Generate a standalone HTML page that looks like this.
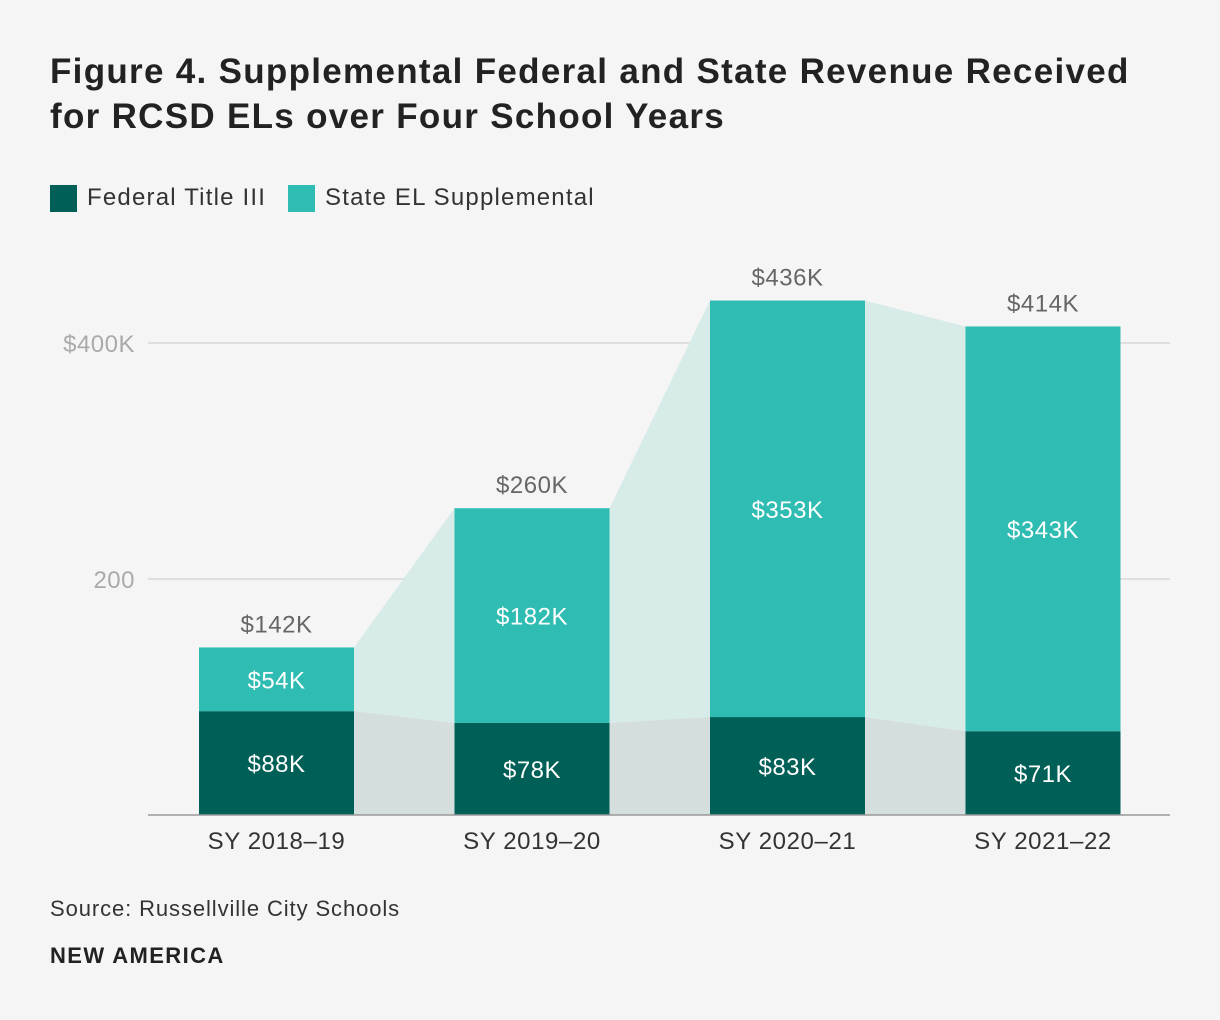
<!DOCTYPE html>
<html><head><meta charset="utf-8"><style>
body{margin:0;background:#f5f5f5;font-family:"Liberation Sans",sans-serif;}
#wrap{position:relative;width:1220px;height:1020px;}
.t{position:absolute;left:50px;font-weight:bold;font-size:35px;letter-spacing:1.3px;color:#222;line-height:45px;}
</style></head><body>
<div id="wrap">
<div class="t" style="top:49px">Figure 4. Supplemental Federal and State Revenue Received<br>for RCSD ELs over Four School Years</div>
<svg id="svg" width="1220" height="1020" style="position:absolute;left:0;top:0">
<g>
<rect x="50" y="185" width="27" height="27" fill="#005f56"/>
<text x="87" y="205" font-size="24" letter-spacing="1.2" fill="#333">Federal Title III</text>
<rect x="288" y="185" width="27" height="27" fill="#2ebcb3"/>
<text x="325" y="205" font-size="24" letter-spacing="1.2" fill="#333">State EL Supplemental</text>
</g>
<g id="g"></g>
<text x="50" y="916" font-size="22" letter-spacing="0.9" fill="#333">Source: Russellville City Schools</text>
<text x="50" y="963" font-size="22" font-weight="bold" letter-spacing="1.4" fill="#222">NEW AMERICA</text>
</svg></div>
<script>
const categories=["SY 2018–19","SY 2019–20","SY 2020–21","SY 2021–22"];
const federal=[88,78,83,71];
const state=[54,182,353,343];
const totals=[142,260,436,414];
const yTicks=[200,400];
const yTickLabels=["200","$400K"];
const NS="http://www.w3.org/2000/svg";
const g=document.getElementById('g');
const y=v=>815-v*1.18;
const xL=i=>199+i*255.5, bw=155;
function el(t,a,txt){const e=document.createElementNS(NS,t);for(const k in a)e.setAttribute(k,a[k]);if(txt!=null)e.textContent=txt;g.appendChild(e);return e;}
yTicks.forEach((v,i)=>{
 let l=el('line',{x1:148,x2:1170,y1:y(v),y2:y(v),stroke:'#d8d8d8','stroke-width':1.5});
 
 
 let t=el('text',{x:135,y:y(v)+9,'text-anchor':'end','font-size':24,'letter-spacing':0.5,fill:'#aaa'},yTickLabels[i]);
 
 
});
for(let i=0;i<categories.length-1;i++){
 const x1=xL(i)+bw,x2=xL(i+1);
 const tot1=federal[i]+state[i],tot2=federal[i+1]+state[i+1];
 let p=el('polygon',{points:`${x1},${y(federal[i])} ${x2},${y(federal[i+1])} ${x2},${y(tot2)} ${x1},${y(tot1)}`,fill:'#d7ebe9'});
 
 
 let q=el('polygon',{points:`${x1},815 ${x2},815 ${x2},${y(federal[i+1])} ${x1},${y(federal[i])}`,fill:'#d3dedd'});
 
 
}
categories.forEach((c,i)=>{
 const x=xL(i),cx=x+bw/2,f=federal[i],s=state[i];
 let r1=el('rect',{x:x,y:y(f),width:bw,height:815-y(f),fill:'#005f56'});
 
 
 let r2=el('rect',{x:x,y:y(f+s),width:bw,height:y(f)-y(f+s),fill:'#2ebcb3'});
 
 
 let t1=el('text',{x:cx,y:(815+y(f))/2+9,'text-anchor':'middle','font-size':24,'letter-spacing':0.5,fill:'#fff'},'$'+f+'K');
 
 
 let t2=el('text',{x:cx,y:(y(f)+y(f+s))/2+9,'text-anchor':'middle','font-size':24,'letter-spacing':0.5,fill:'#fff'},'$'+s+'K');
 
 
 let t3=el('text',{x:cx,y:y(totals[i])-15,'text-anchor':'middle','font-size':24,'letter-spacing':0.5,fill:'#666'},'$'+totals[i]+'K');
 
 
 let t4=el('text',{x:cx,y:849,'text-anchor':'middle','font-size':24,'letter-spacing':0.6,fill:'#333'},c);
 
 
});
let ax=el('line',{x1:148,x2:1170,y1:815,y2:815,stroke:'#999','stroke-width':1.5});


</script>
</body></html>
